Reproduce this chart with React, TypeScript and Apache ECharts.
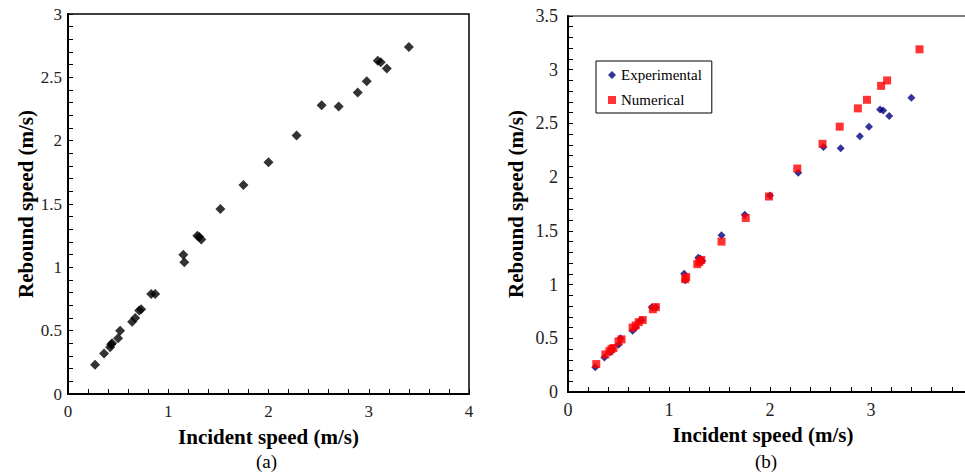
import React, { useEffect, useRef } from "react";
import * as echarts from "echarts";

// (a) and (b): experimental measurements
const expIncident = [0.27, 0.36, 0.42, 0.43, 0.44, 0.5, 0.52, 0.64, 0.67, 0.71, 0.73, 0.83, 0.87, 1.15, 1.16, 1.29, 1.31, 1.33, 1.52, 1.75, 2.0, 2.28, 2.53, 2.7, 2.89, 2.98, 3.09, 3.12, 3.18, 3.4];
const expRebound = [0.23, 0.32, 0.37, 0.39, 0.4, 0.44, 0.5, 0.57, 0.6, 0.66, 0.67, 0.79, 0.79, 1.1, 1.04, 1.25, 1.24, 1.22, 1.46, 1.65, 1.83, 2.04, 2.28, 2.27, 2.38, 2.47, 2.63, 2.62, 2.57, 2.74];

// (b): numerical results
const numIncident = [0.28, 0.37, 0.41, 0.43, 0.45, 0.5, 0.53, 0.64, 0.67, 0.7, 0.74, 0.84, 0.87, 1.16, 1.17, 1.28, 1.3, 1.32, 1.52, 1.76, 1.99, 2.27, 2.52, 2.69, 2.87, 2.96, 3.1, 3.16, 3.48];
const numRebound = [0.26, 0.35, 0.38, 0.4, 0.41, 0.47, 0.49, 0.6, 0.62, 0.65, 0.67, 0.77, 0.79, 1.05, 1.07, 1.19, 1.21, 1.23, 1.4, 1.62, 1.82, 2.08, 2.31, 2.47, 2.64, 2.72, 2.85, 2.9, 3.19];

const xTicks = { min: 0, max: 4, interval: 1 };
const yMaxA = 3;
const yMaxB = 3.5;
const yInterval = 0.5;

const xName = "Incident speed (m/s)";
const yName = "Rebound speed (m/s)";
const legendNames = ["Experimental", "Numerical"];
const panelLabels = ["(a)", "(b)"];

const FONT = "'Liberation Serif', 'Times New Roman', serif";

const pairs = (xs: number[], ys: number[]) => xs.map((x, i) => [x, ys[i]]);

function makeX(gridIndex: number, labelSize: number, namePad: number[]) {
  return {
    type: "value",
    gridIndex,
    min: xTicks.min,
    max: xTicks.max,
    interval: xTicks.interval,
    axisLine: { show: true, lineStyle: { color: "#000", width: 2 } },
    axisTick: { show: true, inside: true, length: 5, lineStyle: { color: "#000", width: 1 } },
    minorTick: { show: true, splitNumber: 5, length: 5, lineStyle: { color: "#000", width: 1 } },
    splitLine: { show: false },
    minorSplitLine: { show: false },
    axisLabel: { margin: 9, fontSize: labelSize, color: "#222", fontFamily: FONT },
    name: xName,
    nameLocation: "middle",
    nameGap: 32,
    nameTextStyle: { fontFamily: FONT, fontWeight: "bold", fontSize: 21, color: "#000", padding: namePad },
  };
}

function makeY(gridIndex: number, max: number, labelSize: number, margin: number, nameGap: number) {
  return {
    type: "value",
    gridIndex,
    min: 0,
    max,
    interval: yInterval,
    axisLine: { show: true, lineStyle: { color: "#000", width: 2 } },
    axisTick: { show: true, inside: true, length: 5, lineStyle: { color: "#000", width: 1 } },
    minorTick: { show: true, splitNumber: 5, length: 5, lineStyle: { color: "#000", width: 1 } },
    splitLine: { show: false },
    minorSplitLine: { show: false },
    axisLabel: { margin, fontSize: labelSize, color: "#222", fontFamily: FONT },
    name: yName,
    nameLocation: "middle",
    nameGap,
    nameTextStyle: { fontFamily: FONT, fontWeight: "bold", fontSize: 21, color: "#000" },
  };
}

export default function App() {
  const ref = useRef<HTMLDivElement>(null);
  useEffect(() => {
    if (!ref.current) return;
    const chart = echarts.init(ref.current, null, { renderer: "svg" });
    chart.setOption({
      animation: false,
      backgroundColor: "#fff",
      grid: [
        { left: 68, top: 14, width: 401, height: 380, show: true, borderColor: "#000", borderWidth: 1.5, backgroundColor: "transparent", outerBoundsMode: "none", containLabel: false },
        { left: 568, top: 16, width: 404, height: 376, show: true, borderColor: "#000", borderWidth: 1.2, backgroundColor: "transparent", outerBoundsMode: "none", containLabel: false },
      ],
      xAxis: [makeX(0, 17, [0, 0, 0, 0]), makeX(1, 18, [0, 14, 0, 0])],
      yAxis: [makeY(0, yMaxA, 17, 6, 25), makeY(1, yMaxB, 18, 10, 42)],
      legend: {
        data: [
          { name: legendNames[0], icon: "diamond" },
          { name: legendNames[1], icon: "rect" },
        ],
        left: 596,
        top: 61,
        orient: "vertical",
        itemWidth: 8,
        itemHeight: 8,
        itemGap: 9,
        padding: [6, 10, 5, 12],
        borderColor: "#000",
        borderWidth: 1,
        backgroundColor: "#fff",
        textStyle: { fontFamily: FONT, fontSize: 15, color: "#000", lineHeight: 16 },
      },
      series: [
        {
          name: "Experimental (a)",
          type: "scatter",
          xAxisIndex: 0,
          yAxisIndex: 0,
          symbol: "diamond",
          symbolSize: 10,
          itemStyle: { color: "#000" },
          data: pairs(expIncident, expRebound),
        },
        {
          name: legendNames[0],
          type: "scatter",
          xAxisIndex: 1,
          yAxisIndex: 1,
          symbol: "diamond",
          symbolSize: 8,
          itemStyle: { color: "#000080" },
          data: pairs(expIncident, expRebound),
        },
        {
          name: legendNames[1],
          type: "scatter",
          xAxisIndex: 1,
          yAxisIndex: 1,
          symbol: "rect",
          symbolSize: 8,
          itemStyle: { color: "#ff0000" },
          data: pairs(numIncident, numRebound),
        },
      ],
      graphic: [
        { type: "text", left: 256, top: 452, style: { text: panelLabels[0], font: `19px ${FONT}`, fill: "#000" } },
        { type: "text", left: 755, top: 452, style: { text: panelLabels[1], font: `19px ${FONT}`, fill: "#000" } },
      ],
    });
    return () => chart.dispose();
  }, []);
  return <div ref={ref} style={{ position: "absolute", left: 0, top: 0, width: 965, height: 474 }} />;
}
